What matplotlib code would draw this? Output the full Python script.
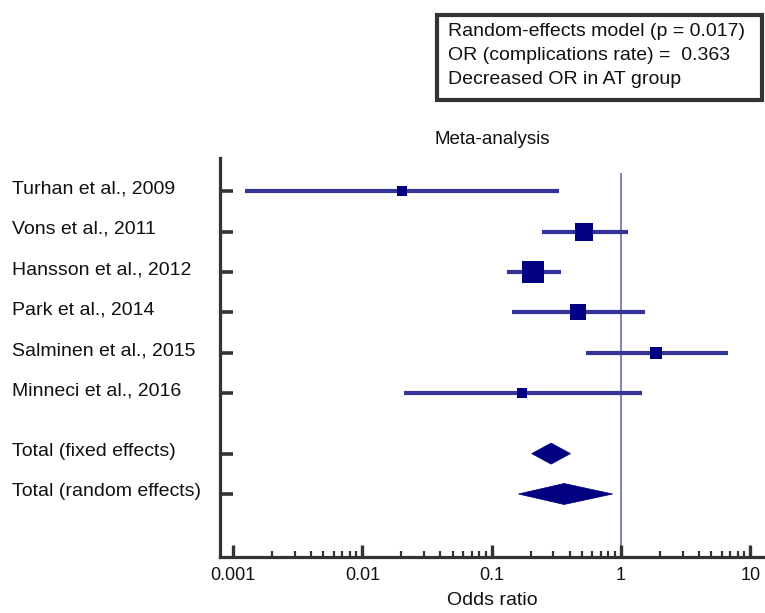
import matplotlib
matplotlib.use("Agg")
import matplotlib.pyplot as plt
import matplotlib.transforms as mtransforms
from matplotlib.patches import Rectangle, Polygon
from matplotlib.ticker import NullFormatter, FixedLocator, FixedFormatter
import numpy as np

plt.rcParams['font.family'] = ['Liberation Sans', 'DejaVu Sans']

# ---- data ----
studies = ["Turhan et al., 2009", "Vons et al., 2011", "Hansson et al., 2012",
           "Park et al., 2014", "Salminen et al., 2015", "Minneci et al., 2016"]
or_est = [0.0202, 0.515, 0.209, 0.467, 1.87, 0.173]
ci_low = [0.00124, 0.244, 0.131, 0.143, 0.536, 0.021]
ci_high = [0.331, 1.14, 0.342, 1.53, 6.69, 1.46]
weights = [8.5, 22.1, 36.3, 15.9, 10.7, 6.6]

pooled_labels = ["Total (fixed effects)", "Total (random effects)"]
pooled_est = [0.288, 0.363]
pooled_low = [0.204, 0.161]
pooled_high = [0.407, 0.863]

xticks = [0.001, 0.01, 0.1, 1, 10]
xtick_labels = ["0.001", "0.01", "0.1", "1", "10"]

box_lines = ["Random-effects model (p = 0.017)",
             "OR (complications rate) =  0.363",
             "Decreased OR in AT group"]

# ---- figure ----
W, H = 765, 613
fig = plt.figure(figsize=(W / 100, H / 100), dpi=100)
ax = fig.add_axes([220 / W, (H - 557) / H, (765 - 220) / W, (557 - 158) / H])

study_y = list(range(len(studies)))
pooled_y = [6.5, 7.5]

ax.set_xscale('log')
ax.set_xlim(0.000792, 13.0)
ax.set_ylim(9.06, -0.82)

# reference line
ax.vlines(1, -0.45, 9.06, color='#8080c0', lw=1.4, zorder=1)

ci_color = '#333399'
sq_color = '#000080'
k = 3.77 * 0.72
for y, est, lo, hi, w in zip(study_y, or_est, ci_low, ci_high, weights):
    ax.plot([lo, hi], [y, y], color=ci_color, lw=3.0, solid_capstyle='butt', zorder=2)
    ax.plot([est], [y], marker='s', ms=k * np.sqrt(w), color=sq_color, mew=0, zorder=3)

half_h = 0.26
for y, est, lo, hi in zip(pooled_y, pooled_est, pooled_low, pooled_high):
    poly = Polygon([[lo, y], [est, y - half_h], [hi, y], [est, y + half_h]],
                   closed=True, facecolor=sq_color, edgecolor=sq_color, lw=0.5, zorder=3)
    ax.add_patch(poly)

# spines
for s in ['top', 'right']:
    ax.spines[s].set_visible(False)
for s in ['left', 'bottom']:
    ax.spines[s].set_linewidth(2.3)
    ax.spines[s].set_color('#333333')

# y ticks
ax.yaxis.set_major_locator(FixedLocator(study_y + pooled_y))
ax.yaxis.set_major_formatter(NullFormatter())
ax.tick_params(axis='y', direction='in', length=9, width=2.6, color='#333333')
trans = mtransforms.blended_transform_factory(fig.transFigure, ax.transData)
for y, lab in zip(study_y + pooled_y, studies + pooled_labels):
    ax.text(12 / W, y - 0.05, lab, transform=trans, ha='left', va='center',
            fontsize=14, color='#111111')

# x ticks
minor = [d * m for d in xticks[:-1] for m in range(2, 10)]
ax.xaxis.set_major_locator(FixedLocator(xticks))
ax.xaxis.set_major_formatter(FixedFormatter(xtick_labels))
ax.xaxis.set_minor_locator(FixedLocator(minor))
ax.xaxis.set_minor_formatter(NullFormatter())
ax.tick_params(axis='x', which='major', direction='in', length=9, width=2.4,
               color='#333333', labelsize=13, pad=7, labelcolor='#111111')
ax.tick_params(axis='x', which='minor', direction='in', length=4.5, width=1.6, color='#333333')

ax.set_xlabel("Odds ratio", fontsize=14, labelpad=6, color='#111111')
ax.set_title("Meta-analysis", fontsize=13.5, pad=10, color='#111111')

# annotation box
fig.patches.append(Rectangle((437 / W, (H - 100) / H), (762 - 437) / W, 85 / H,
                             transform=fig.transFigure, fill=False,
                             edgecolor='#333333', lw=3))
for i, line in enumerate(box_lines):
    fig.text(448 / W, (H - (32 + 24 * i)) / H, line, ha='left', va='center',
             fontsize=14, color='#111111')

fig.savefig("out.png", dpi=100)
